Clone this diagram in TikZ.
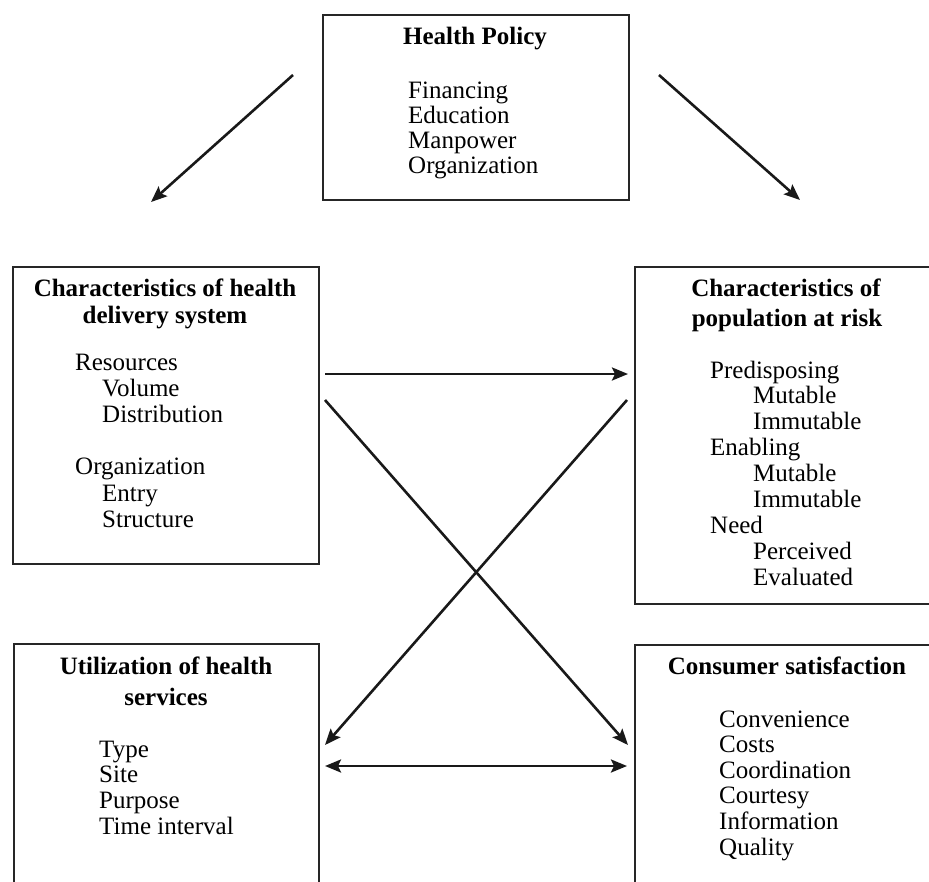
\documentclass[tikz,border=0pt]{standalone}
\usepackage{fontspec}
\setmainfont{Liberation Serif}
\usetikzlibrary{arrows.meta,positioning}

\newcommand{\diagfont}{\fontsize{25pt}{26pt}\selectfont}

\tikzset{
  box/.style={draw=black!85, line width=2pt, anchor=north west, inner sep=0pt},
  head/.style={font=\diagfont\bfseries, anchor=base, inner sep=0pt},
  item/.style={anchor=base west, inner sep=0pt},
  tip/.tip={Stealth[length=16pt,width=13pt,inset=3pt]},
  link/.style={line width=2.6pt, draw=black!90, -tip},
  twoway/.style={link, tip-tip}
}

\begin{document}
\begin{tikzpicture}[x=1pt,y=-1pt,font=\diagfont]
    \useasboundingbox (0,0) rectangle (929,881);
    \clip (0,0) rectangle (929,881);

    % the five boxes (the right and lower ones run off the page)
    \node[box, minimum width=306pt, minimum height=185pt] (policy) at (322,14) {};
    \node[box, minimum width=306pt, minimum height=297pt] (delivery) at (12,266) {};
    \node[box, minimum width=304pt, minimum height=337pt] (population) at (634,266) {};
    \node[box, minimum width=305pt, minimum height=300pt] (utilization) at (13,643) {};
    \node[box, minimum width=304pt, minimum height=300pt] (satisfaction) at (634,644) {};

    % headings
    \node[head] (policyhead) at (475,44) {Health Policy};
    \node[head] (deliveryhead) at (165,296) {Characteristics of health};
    \node[head] (deliveryhead2) at (165,323) {delivery system};
    \node[head] (populationhead) at (786,296) {Characteristics of};
    \node[head] (populationhead2) at (787,326) {population at risk};
    \node[head] (utilizationhead) at (166,674) {Utilization of health};
    \node[head] (utilizationhead2) at (166,705) {services};
    \node[head] (satisfactionhead) at (787,674) {Consumer satisfaction};

    % item lists: line number / indent / text
    \foreach \t [count=\i from 0] in {Financing, Education, Manpower, Organization}
      \node[item] (pol\i) at (408,98+25.3*\i) {\t};
    \foreach \n/\d/\t in {0/0/Resources, 1/1/Volume, 2/1/Distribution, 4/0/Organization, 5/1/Entry, 6/1/Structure}
      \node[item] (del\n) at (75+27*\d,370+26.2*\n) {\t};
    \foreach \n/\d/\t in {0/0/Predisposing, 1/1/Mutable, 2/1/Immutable, 3/0/Enabling, 4/1/Mutable, 5/1/Immutable, 6/0/Need, 7/1/Perceived, 8/1/Evaluated}
      \node[item] (pop\n) at (710+43*\d,378+25.9*\n) {\t};
    \foreach \t [count=\i from 0] in {Type, Site, Purpose, Time interval}
      \node[item] (uti\i) at (99,757+25.7*\i) {\t};
    \foreach \t [count=\i from 0] in {Convenience, Costs, Coordination, Courtesy, Information, Quality}
      \node[item] (sat\i) at (719,727+25.6*\i) {\t};

    % connectors
    \draw[link] ([shift={(-29,61)}]policy.north west) -- ([shift={(139,-64)}]delivery.north west);
    \draw[link] ([shift={(29,61)}]policy.north east) -- ([shift={(166,-66)}]population.north west);
    \draw[link] ([shift={(5,108)}]delivery.north east) -- ([shift={(-6,108)}]population.north west);
    \draw[link] ([shift={(5,134)}]delivery.north east) -- ([shift={(-6,101)}]satisfaction.north west);
    \draw[link] ([shift={(-7,134)}]population.north west) -- ([shift={(5,102)}]utilization.north east);
    \draw[twoway] ([shift={(5,123)}]utilization.north east) -- ([shift={(-7,122)}]satisfaction.north west);
  \end{tikzpicture}
\end{document}
